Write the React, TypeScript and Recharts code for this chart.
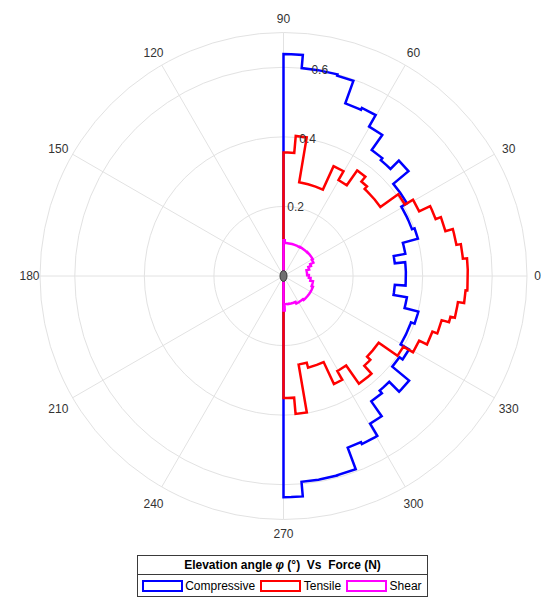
import React from 'react';
import { RadarChart, Radar, PolarGrid, PolarAngleAxis, PolarRadiusAxis, Legend } from 'recharts';

// ---- axis ticks ----
const angleTicks = [-150, -120, -90, -60, -30, 0, 30, 60, 90, 120, 150, 180];
const radiusTicks = [0, 0.2, 0.4, 0.6, 0.7];
const radiusDomain: [number, number] = [0, 0.7];

// ---- stair steps: bin edges (deg, from 90 down to -90) and force per bin ----
const compressiveEdges = [90, 85, 75, 70.3, 65, 60.2, 55, 50, 45, 40, 30.5, 20, 15.5, 10.3, 6.5, -4.5, -9.8, -14.8, -20, -30.3, -35, -39.8, -45, -50, -55, -59.6, -65, -69.5, -75, -85, -90];
const compressiveValues = [0.638, 0.6, 0.596, 0.527, 0.533, 0.495, 0.442, 0.435, 0.469, 0.412, 0.393, 0.401, 0.356, 0.322, 0.352, 0.321, 0.36, 0.401, 0.39, 0.418, 0.407, 0.47, 0.43, 0.44, 0.492, 0.533, 0.527, 0.593, 0.594, 0.636];

const tensileEdges = [90, 85, 80.5, 65.5, 60.2, 55.1, 50.5, 47, 35.5, 30.5, 25.5, 20.5, 15.5, 10.2, 5.5, -4.5, -8.5, -13.7, -15.6, -20.5, -25.5, -30.5, -35, -44, -48, -55, -60.5, -65, -75, -80.3, -85, -90];
const tensileValues = [0.355, 0.404, 0.273, 0.347, 0.318, 0.37, 0.352, 0.342, 0.405, 0.432, 0.467, 0.483, 0.505, 0.518, 0.53, 0.525, 0.507, 0.494, 0.472, 0.457, 0.432, 0.4, 0.334, 0.347, 0.378, 0.314, 0.343, 0.273, 0.258, 0.398, 0.351];

const shearEdges = [90, 88, 60, 45, 30, 24, 20, 14, 2, -4, -10, -20, -35, -50, -65, -80, -88, -90];
const shearValues = [0.103, 0.095, 0.096, 0.097, 0.094, 0.084, 0.076, 0.068, 0.073, 0.078, 0.086, 0.09, 0.09, 0.087, 0.082, 0.081, 0.099];

const series = [
  { key: 'compressive', name: 'Compressive', color: '#0000ff', edges: compressiveEdges, values: compressiveValues },
  { key: 'tensile', name: 'Tensile', color: '#ff0000', edges: tensileEdges, values: tensileValues },
  { key: 'shear', name: 'Shear', color: '#ff00ff', edges: shearEdges, values: shearValues },
];

function stepValue(edges: number[], values: number[], angle: number): number {
  for (let i = 0; i < values.length; i++) {
    if (angle <= edges[i] && angle >= edges[i + 1]) return values[i];
  }
  return 0;
}

// stairs outline table: two rows per edge (value just above / just below the edge)
function buildRows() {
  const edgeSet = Array.from(new Set(series.flatMap((s) => s.edges))).sort((a, b) => b - a);
  const rows: Record<string, number>[] = [];
  edgeSet.forEach((a, i) => {
    const above: Record<string, number> = { angle: a };
    const below: Record<string, number> = { angle: a };
    series.forEach((s) => {
      above[s.key] = i === 0 ? 0 : stepValue(s.edges, s.values, a + 1e-6);
      below[s.key] = i === edgeSet.length - 1 ? 0 : stepValue(s.edges, s.values, a - 1e-6);
    });
    rows.push(above, below);
  });
  return rows;
}
const rows = buildRows();

const CX = 283.5;
const CY = 276;
const OUTER = 243.5;
const FONT = '"Liberation Sans", Arial, Helvetica, sans-serif';

function AngleTick(props: any) {
  const { payload } = props;
  const v = payload.value;
  if (v === -180) return <g />;
  const deg = payload.coordinate;
  const rad = (deg * Math.PI) / 180;
  const c = Math.cos(rad);
  const s = Math.sin(rad);
  let gap = 16.5;
  let dy = 2.5;
  if (Math.abs(s) < 0.1) {
    gap = 10.5;
    dy = 0;
  } else if (Math.abs(c) < 0.1) {
    gap = 14;
    dy = 0;
  }
  const r = OUTER + gap;
  const x = CX + r * c;
  const y = CY - r * s + dy;
  const label = v < 0 ? v + 360 : v;
  return (
    <text x={x} y={y} textAnchor="middle" dominantBaseline="central" fontSize={12} fill="#333" fontFamily={FONT}>
      {label}
    </text>
  );
}

function RadiusTick(props: any) {
  const { x, y, payload } = props;
  const v = payload.value;
  if (v === 0) {
    return <ellipse cx={x} cy={y} rx={3.5} ry={5.5} fill="#707070" stroke="#3a3a3a" strokeWidth={1} />;
  }
  if (v === 0.7) return <g />;
  return (
    <text x={x} y={y} textAnchor="middle" dominantBaseline="central" fontSize={12} fill="#333" fontFamily={FONT}>
      {v}
    </text>
  );
}

function LegendBox() {
  return (
    <div
      style={{
        width: 291,
        height: 42,
        boxSizing: 'border-box',
        border: '1px solid #3a3a3a',
        background: '#fff',
        fontFamily: FONT,
        color: '#000',
      }}
    >
      <div
        style={{
          height: 18,
          lineHeight: '18px',
          textAlign: 'center',
          fontWeight: 'bold',
          fontSize: 12,
          borderBottom: '1px solid #3a3a3a',
          whiteSpace: 'pre',
        }}
      >
        {'Elevation angle '}
        <i>φ</i>
        {' (°)  Vs  Force (N)'}
      </div>
      <div style={{ display: 'flex', alignItems: 'center', height: 21, paddingLeft: 3.7 }}>
        {series.map((s) => (
          <div key={s.key} style={{ display: 'flex', alignItems: 'center', marginRight: 5 }}>
            <span
              style={{
                display: 'inline-block',
                width: 41,
                height: 12,
                boxSizing: 'border-box',
                border: `2px solid ${s.color}`,
                marginRight: 2.5,
              }}
            />
            <span style={{ fontSize: 12, lineHeight: '14px' }}>{s.name}</span>
          </div>
        ))}
      </div>
    </div>
  );
}

export default function App() {
  return (
    <div style={{ position: 'absolute', left: 0, top: 0, width: 541, height: 597, background: '#fff' }}>
      <RadarChart
        width={541}
        height={597}
        data={rows}
        cx={CX}
        cy={CY}
        innerRadius={0}
        outerRadius={OUTER}
        startAngle={-180}
        endAngle={180}
        margin={{ top: 0, right: 0, bottom: 0, left: 0 }}
      >
        <PolarGrid gridType="circle" stroke="#e2e2e2" strokeWidth={1} />
        {series.map((s) => (
          <Radar
            key={s.key}
            dataKey={s.key}
            name={s.name}
            stroke={s.color}
            strokeWidth={2.5}
            fill="none"
            fillOpacity={0}
            dot={false}
            isAnimationActive={false}
          />
        ))}
        <PolarAngleAxis
          type="number"
          dataKey="angle"
          domain={[-180, 180]}
          ticks={angleTicks}
          tickCount={13}
          tick={AngleTick}
          tickLine={false}
          axisLine={false}
        />
        <PolarRadiusAxis
          type="number"
          domain={radiusDomain}
          allowDataOverflow={true}
          allowDecimals={true}
          scale="linear"
          ticks={radiusTicks}
          tickCount={8}
          angle={80}
          axisLine={false}
          tick={RadiusTick}
        />
        <Legend
          content={() => <LegendBox />}
          wrapperStyle={{ left: 137, top: 555, width: 291 }}
        />
      </RadarChart>
    </div>
  );
}
